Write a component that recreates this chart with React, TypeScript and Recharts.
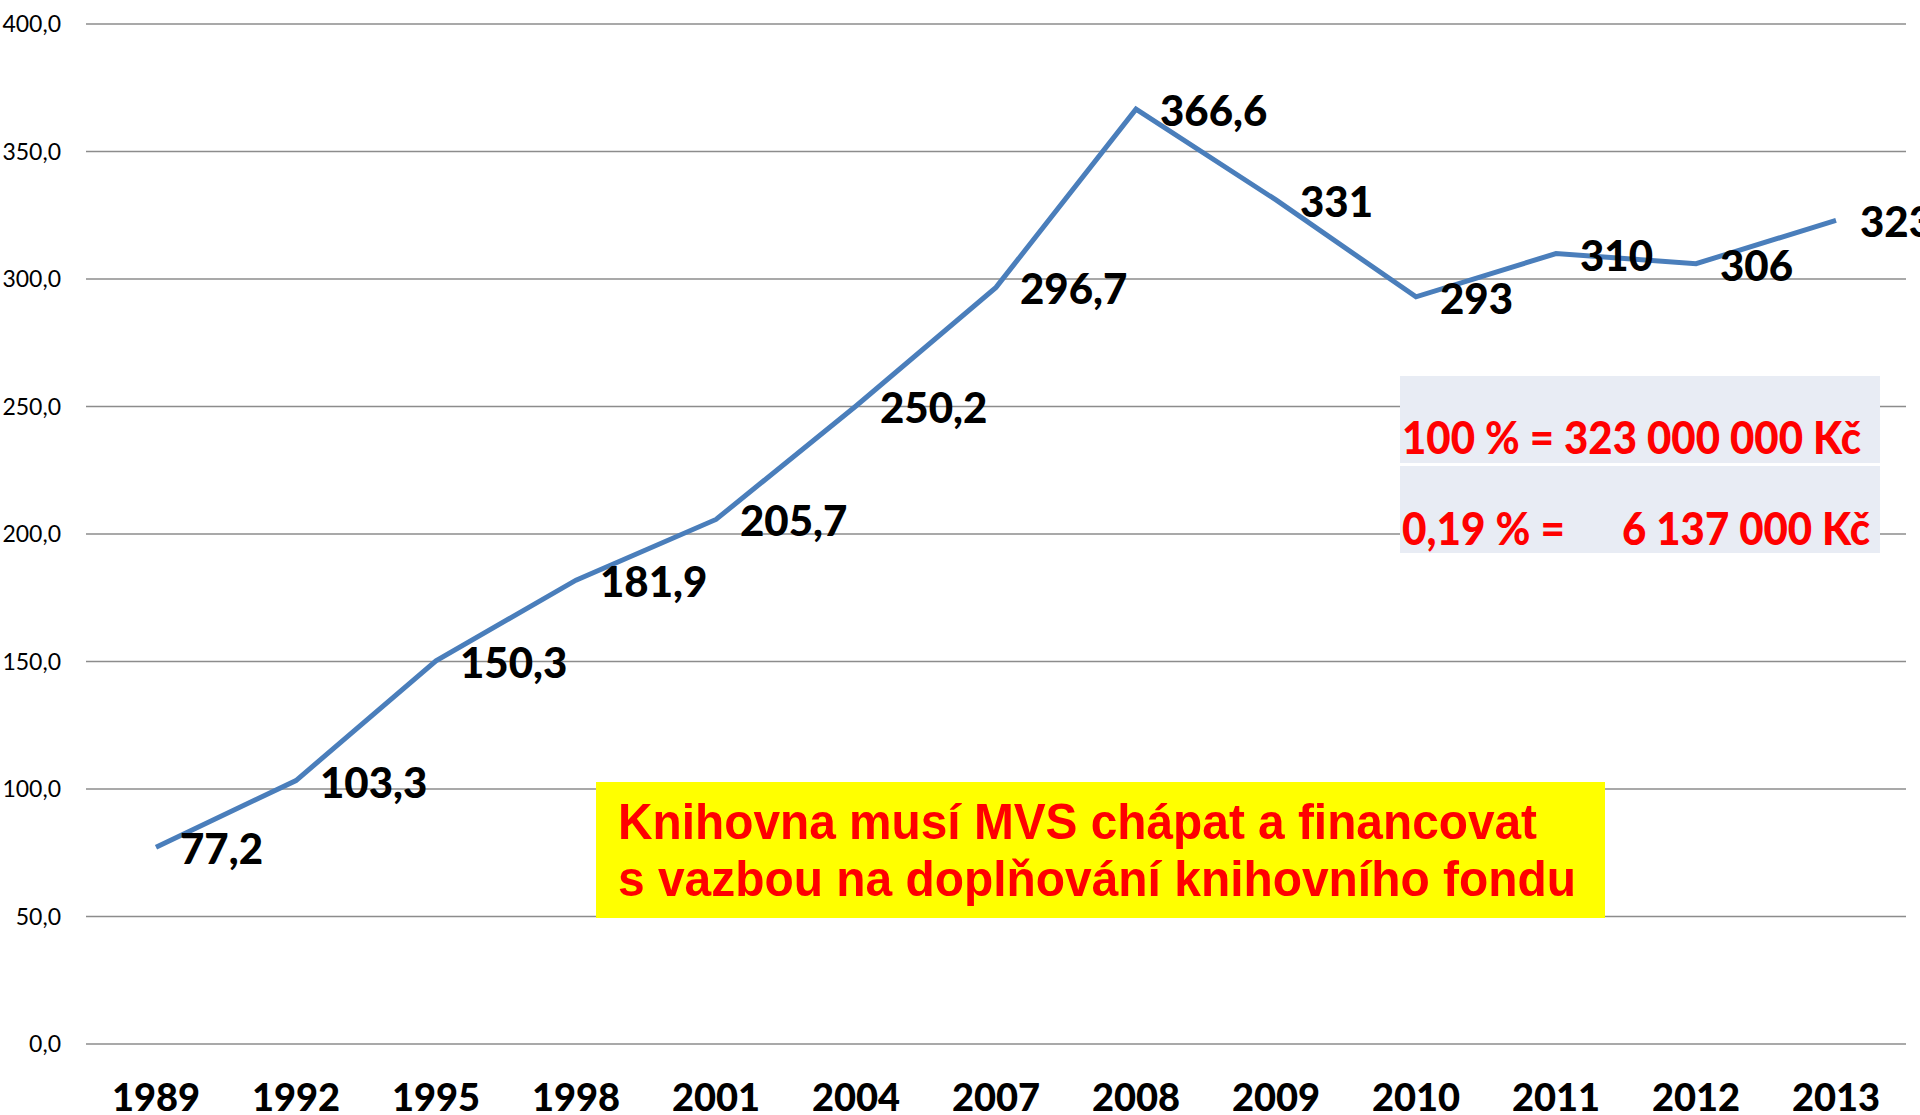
import React from 'react';
import { LineChart, Line, XAxis, YAxis, CartesianGrid, LabelList } from 'recharts';

const years = ['1989', '1992', '1995', '1998', '2001', '2004', '2007', '2008', '2009', '2010', '2011', '2012', '2013'];
const amounts = [77.2, 103.3, 150.3, 181.9, 205.7, 250.2, 296.7, 366.6, 331, 293, 310, 306, 323];
const yTicks = [0, 50, 100, 150, 200, 250, 300, 350, 400];

const noteLines = ['Knihovna musí MVS chápat a financovat', 's vazbou na doplňování knihovního fondu'];
const budgetTotal = '100 % = 323 000 000 Kč';
const budgetShareLabel = '0,19 % =';
const budgetShareValue = '6 137 000 Kč';

const data = years.map((year, i) => ({ year, value: amounts[i] }));

const fmtValue = (v: number) => (Number.isInteger(v) ? String(v) : v.toFixed(1).replace('.', ','));
const fmtTick = (v: number) => v.toFixed(1).replace('.', ',');

const XTick = ({ x, y, payload }: any) => (
  <text x={x} y={y} dy={67} textAnchor="middle" fontSize={38} fontWeight={900} fill="#000" fontFamily="Lato">
    {payload.value}
  </text>
);

const PointLabel = ({ x, y, value }: any) => (
  <text x={x + 24} y={y + 17} fontSize={42} fontWeight={900} fill="#000" fontFamily="Lato">
    {fmtValue(value)}
  </text>
);

export default function App() {
  return (
    <div style={{ position: 'absolute', left: 0, top: 0, width: 1920, height: 1115, overflow: 'hidden', background: '#fff', fontFamily: 'Lato' }}>
      <LineChart width={1920} height={1115} data={data} margin={{ top: 24, right: 14, bottom: 0, left: 0 }}>
        <CartesianGrid vertical={false} stroke="#8c8c8c" strokeWidth={1.6} />
        <XAxis
          dataKey="year"
          axisLine={false}
          tickLine={false}
          tickSize={0}
          tickMargin={0}
          height={71}
          padding={{ left: 70, right: 70 }}
          tick={<XTick />}
          interval={0}
        />
        <YAxis
          domain={[0, 400]}
          ticks={yTicks}
          tickFormatter={fmtTick}
          axisLine={false}
          tickLine={false}
          tickSize={0}
          tickMargin={25}
          width={86}
          tick={{ fontSize: 23, fill: '#000', fontFamily: 'Lato' }}
        />
        <Line
          type="linear"
          dataKey="value"
          stroke="#4a7ebb"
          strokeWidth={5}
          dot={false}
          isAnimationActive={false}
        >
          <LabelList dataKey="value" content={<PointLabel />} />
        </Line>
      </LineChart>

      <svg width={1920} height={1115} style={{ position: 'absolute', left: 0, top: 0, pointerEvents: 'none' }}>
        {/* budget box */}
        <rect x={1400} y={376} width={480} height={87} fill="#e8ecf4" />
        <rect x={1400} y={466} width={480} height={87} fill="#e8ecf4" />
        <g fontFamily="Lato" fontWeight={900} fontSize={45} fill="#ff0000">
          <text x={1402} y={454} textLength={459} lengthAdjust="spacingAndGlyphs">{budgetTotal}</text>
          <text x={1402} y={545} textLength={163} lengthAdjust="spacingAndGlyphs">{budgetShareLabel}</text>
          <text x={1622} y={545} textLength={248} lengthAdjust="spacingAndGlyphs">{budgetShareValue}</text>
        </g>

        {/* note box */}
        <rect x={596} y={782} width={1009} height={136} fill="#ffff00" />
        <g fontFamily="Liberation Sans" fontWeight={700} fontSize={50} fill="#ff0000">
          <text x={618} y={839} textLength={919} lengthAdjust="spacingAndGlyphs">{noteLines[0]}</text>
          <text x={618} y={896} textLength={958} lengthAdjust="spacingAndGlyphs">{noteLines[1]}</text>
        </g>
      </svg>
    </div>
  );
}
